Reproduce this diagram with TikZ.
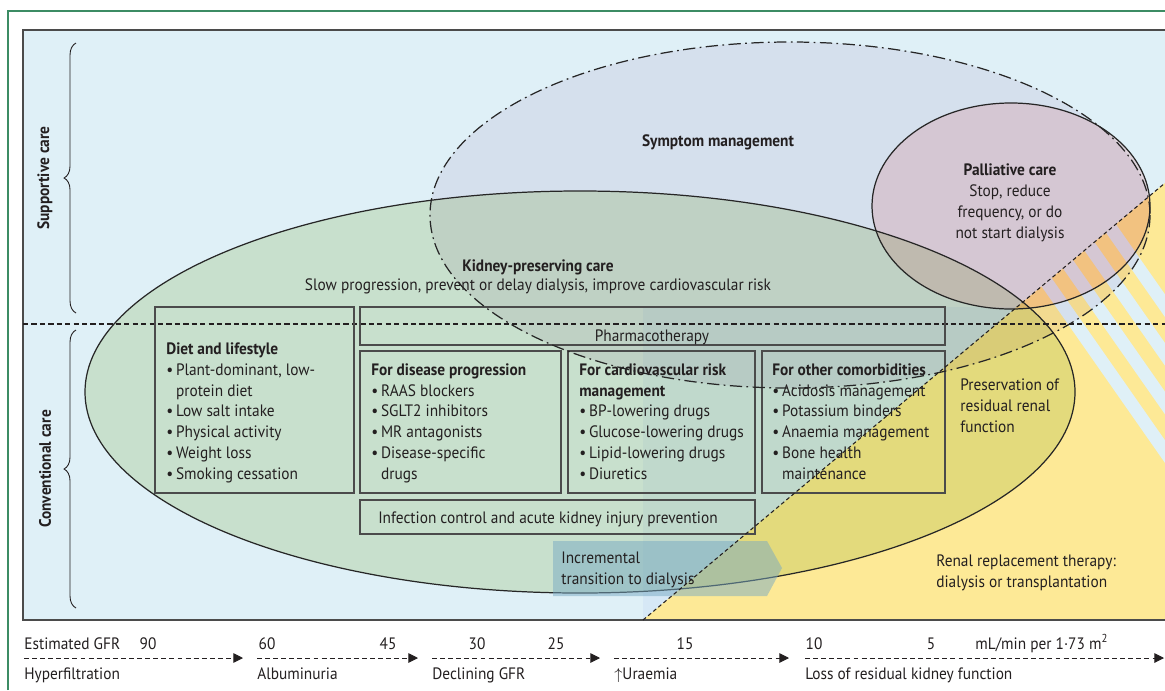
\documentclass[tikz,border=0pt]{standalone}
\usepackage{fontspec}
\setmainfont{PT Sans}[FakeStretch=0.93]
\usetikzlibrary{arrows.meta, calc, decorations.pathreplacing}

\definecolor{panelblue}{RGB}{223,240,247}
\definecolor{tintblue}{RGB}{214,232,246}
\definecolor{rrtyellow}{RGB}{253,233,150}
\definecolor{kidneygreen}{RGB}{229,239,212}
\definecolor{symptomgray}{RGB}{244,239,245}
\definecolor{palliativepink}{RGB}{255,227,228}
\definecolor{incrblue}{RGB}{120,170,195}
\definecolor{framegreen}{RGB}{60,140,100}
\definecolor{inkgray}{RGB}{35,31,32}
\definecolor{boxgray}{RGB}{75,75,75}

\begin{document}
\begin{tikzpicture}[x=0.02cm, y=-0.02cm,
    every node/.style={inner sep=0pt, text=inkgray, font=\fontsize{9.4}{11.8}\selectfont},
    txt/.style={align=left, anchor=base west},
    ctxt/.style={align=center, anchor=base},
    hdr/.style={font=\fontsize{9.4}{11.8}\selectfont\bfseries},
    boxline/.style={draw=boxgray, line width=0.8pt},
    ovalline/.style={draw=black!85, line width=0.7pt},
    symptomline/.style={draw=black!85, line width=0.7pt, dash pattern=on 7pt off 2.5pt on 1pt off 2.5pt},
    stripe/.style={draw=panelblue, line width=7.4pt},
    gfr/.style={draw=inkgray, line width=0.5pt, dash pattern=on 2.8pt off 1.8pt, -{Triangle[length=5.5pt, width=5.5pt]}},
    carebrace/.style={decorate, decoration={brace, amplitude=6.8pt}, draw=inkgray, line width=0.5pt}]
  \useasboundingbox (0,0) rectangle (1165,690);
  \fill[white] (0,0) rectangle (1165,690);
  \draw[framegreen, line width=0.8pt] (8,690) -- (8,11) -- (1165,11);

  % panel and renal replacement therapy region
  \fill[panelblue] (23,30) rectangle (1165,620);
  \fill[tintblue] (643,307) rectangle (1165,620);
  \coordinate (rrtlow) at (643,620);
  \coordinate (rrthigh) at (1165,183);
  \fill[rrtyellow] (rrtlow) -- (rrthigh) -- (1165,620) -- cycle;
  \begin{scope}
    \clip (rrtlow) -- (rrthigh) -- (1165,620) -- cycle;
    \foreach \k in {0,...,3}
      \draw[stripe] (1059+34*\k,300) ++(-172,-246) -- ++(344,492);
  \end{scope}

  % care ovals
  \begin{scope}[blend mode=multiply]
    \fill[kidneygreen] (580,392) ellipse [x radius=495, y radius=201];
    \fill[symptomgray] (790,215) ellipse [x radius=360, y radius=173];
    \fill[palliativepink] (1011,206) ellipse [x radius=139, y radius=103];
  \end{scope}
  \draw[ovalline] (580,392) ellipse [x radius=495, y radius=201];
  \draw[ovalline] (1011,206) ellipse [x radius=139, y radius=103];

  \draw[boxgray, line width=0.8pt] (1165,30) -- (23,30) -- (23,620) -- (1165,620);
  \draw[inkgray, line width=0.6pt, dash pattern=on 3pt off 1.8pt] (23,324) -- (1165,324);

  % boxes
  \draw[boxline] (155,307) rectangle (354,493);
  \draw[boxline] (360,307) rectangle (945,345);
  \draw[boxline] (360,351) rectangle (561,493);
  \draw[boxline] (568,351) rectangle (755,493);
  \draw[boxline] (762,351) rectangle (945,493);
  \draw[boxline] (360,500) rectangle (755,534);
  \fill[incrblue, fill opacity=0.5] (553,541) -- (767,541) -- (782,568) -- (767,596) -- (553,596) -- cycle;

  % multi-line nodes sit on the baseline of their last line
  \node[ctxt, hdr] (symptom) at (718,146) {Symptom management};
  \node[ctxt] (palliative) at (1010,238) {\textbf{Palliative care}\\Stop, reduce\\frequency, or do\\not start dialysis};
  \node[ctxt, hdr] (kidneytitle) at (538,271) {Kidney-preserving care};
  \node[ctxt] (kidneyaim) at (538,290) {Slow progression, prevent or delay dialysis, improve cardiovascular risk};
  \node[ctxt] (pharma) at (652,341) {Pharmacotherapy};
  \node[txt] (diet) at (166,479) {\textbf{Diet and lifestyle}\\
    \textbullet\,Plant-dominant, low-\\
    \phantom{\textbullet\,}protein diet\\
    \textbullet\,Low salt intake\\
    \textbullet\,Physical activity\\
    \textbullet\,Weight loss\\
    \textbullet\,Smoking cessation};
  \node[txt] (disease) at (371,479) {\textbf{For disease progression}\\
    \textbullet\,RAAS blockers\\
    \textbullet\,SGLT2 inhibitors\\
    \textbullet\,MR antagonists\\
    \textbullet\,Disease-specific\\
    \phantom{\textbullet\,}drugs};
  \node[txt] (cardio) at (579,479) {\textbf{For cardiovascular risk}\\
    \textbf{management}\\
    \textbullet\,BP-lowering drugs\\
    \textbullet\,Glucose-lowering drugs\\
    \textbullet\,Lipid-lowering drugs\\
    \textbullet\,Diuretics};
  \node[txt] (comorb) at (772,479) {\textbf{For other comorbidities}\\
    \textbullet\,Acidosis management\\
    \textbullet\,Potassium binders\\
    \textbullet\,Anaemia management\\
    \textbullet\,Bone health\\
    \phantom{\textbullet\,}maintenance};
  \node[ctxt] (infection) at (548,523) {Infection control and acute kidney injury prevention};
  \node[txt] (incremental) at (561,584) {Incremental\\transition to dialysis};
  \node[txt] (residual) at (960,432) {Preservation of\\residual renal\\function};
  \node[txt] (rrt) at (936,587) {Renal replacement therapy:\\dialysis or transplantation};

  % dash-dot border and GFR divide on top
  \draw[symptomline] (790,215) ellipse [x radius=360, y radius=173];
  \draw[inkgray, line width=0.6pt, dash pattern=on 2.2pt off 1.6pt] (rrtlow) -- (rrthigh);

  % braces
  \draw[carebrace] (76,313) -- (76,43);
  \draw[carebrace] (76,608) -- (76,330);
  \node[hdr, rotate=90] (supportive) at (45,178) {Supportive care};
  \node[hdr, rotate=90] (conventional) at (45,469) {Conventional care};

  % eGFR axis
  \node[txt] (egfr) at (24,649) {Estimated GFR};
  \foreach \v/\x in {90/148, 60/267, 45/388, 30/477, 25/556, 15/685, 10/814, 5/931}
    \node[ctxt] (gfr\v) at (\x,649) {\v};
  \node[txt] (unit) at (975,649) {mL/min per 1·73 m\textsuperscript{2}};
  \foreach \s/\e [count=\i] in {24/243, 257/418, 432/600, 614/789, 805/1164} {
    \coordinate (gfrs\i) at (\s,658);
    \coordinate (gfre\i) at (\e,658);
    \draw[gfr] (gfrs\i) -- (gfre\i);
  }
  \foreach \n/\x/\t in {hyper/24/Hyperfiltration, albumin/257/Albuminuria, decline/432/Declining GFR, uraemia/614/{$\uparrow$Uraemia}, loss/805/Loss of residual kidney function}
    \node[txt] (\n) at (\x,679) {\t};
\end{tikzpicture}
\end{document}
